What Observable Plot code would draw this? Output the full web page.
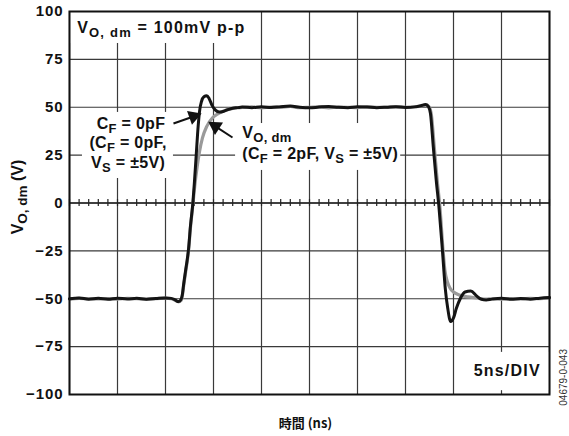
<!DOCTYPE html>
<html><head><meta charset="utf-8">
<script src="https://cdn.jsdelivr.net/npm/d3@7"></script>
<script src="https://cdn.jsdelivr.net/npm/@observablehq/plot@0.6"></script>
<style>
body{margin:0;background:#fff}
g[aria-label="y-axis tick label"] text{letter-spacing:0.9px}
</style>
</head><body><div id="chart"></div>
<script>
// ---- data ----
const yTicks = [-100, -75, -50, -25, 0, 25, 50, 75, 100];
const xGrid = [0, 5, 10, 15, 20, 25, 30, 35, 40, 45, 50];
const minorTicks = [0,1,2,3,4,5,6,7,8,9,10,11,12,13,14,15,16,17,18,19,20,21,22,23,24,25,26,27,28,29,30,31,32,33,34,35,36,37,38,39,40,41,42,43,44,45,46,47,48,49,50];

// black trace: C_F = 0pF  [time ns, V]
const blackTrace = [
  [0,-50.0],[1,-49.6],[2,-50.2],[3,-49.8],[4,-50.3],[5,-49.7],[6,-50.1],[7,-49.8],[8,-50.2],[9,-49.9],
  [10,-49.6],[10.6,-49.8],[11.0,-50.6],[11.35,-51.5],[11.6,-50.5],[11.75,-48],[11.9,-42],[12.1,-35],
  [12.25,-30],[12.4,-24],[12.6,-12],[12.85,0],[13.0,10],[13.2,25],[13.4,40],[13.55,48],[13.75,53],
  [14.0,55.5],[14.3,56],[14.55,54.5],[14.85,51],[15.2,48.5],[15.6,47.5],[16.0,47.8],[16.5,48.8],
  [17.0,49.5],[17.5,49.8],[18,50.1],[19,49.8],[20,50.2],[21,49.9],[22,50.3],[23,50.6],[24,50.0],
  [25,49.7],[26,50.1],[27,50.4],[28,50.0],[29,49.8],[30,50.2],[31,50.1],[32,49.8],[33,50.0],[34,50.3],
  [35,49.9],[36,50.2],[36.6,50.8],[37.1,51.5],[37.4,50.2],[37.6,46.7],[37.9,29],[38.2,12],[38.5,-3],
  [38.85,-25],[39.15,-45],[39.4,-55],[39.7,-61.9],[40.0,-60],[40.3,-55],[40.7,-50],[41.2,-46.5],
  [41.8,-46],[42.4,-48.5],[42.9,-50.3],[43.4,-50.6],[44,-50.2],[45,-49.8],[46,-50.3],[47,-49.9],
  [48,-50.2],[49,-49.7],[50,-49.4]
];
// grey trace: C_F = 2pF
const greyTrace = [
  [0,-50.2],[1,-49.8],[2,-50],[3,-50.1],[4,-49.9],[5,-50.2],[6,-49.8],[7,-50],[8,-50.3],[9,-49.9],
  [10,-49.7],[10.6,-49.9],[11.0,-50.8],[11.35,-51.6],[11.6,-51],[11.75,-48.5],[11.9,-43],[12.1,-36],
  [12.25,-31],[12.4,-25],[12.6,-13],[12.85,-1],[13.05,9],[13.3,19],[13.55,27],[13.85,34],[14.3,40],
  [14.9,44.5],[15.5,46.7],[16.2,48.3],[17,49.4],[18,49.9],[19,50.2],[20,49.7],[21,50.1],[22,50],
  [23,50.4],[24,49.8],[25,50],[26,50.2],[27,49.7],[28,50.1],[29,50],[30,49.8],[31,50.2],[32,50],
  [33,49.9],[34,50.2],[35,50],[36,50.3],[36.6,50.6],[37.15,51.2],[37.45,50.3],[37.7,46],[38.0,29],
  [38.3,12],[38.6,-3],[38.9,-24],[39.1,-35],[39.35,-41],[39.65,-44.5],[40.0,-46.5],[40.6,-48],
  [41.5,-49],[42.5,-49.6],[43.4,-50.2],[44,-50],[45,-50.2],[46,-49.9],[47,-50.1],[48,-49.8],[49,-50],[50,-49.6]
];

// text annotations (time ns, V)
const boxTexts = [
  {t: 0.8, v: 89, text: "V_{O, dm} = 100mV p-p"},
  {t: 42.1, v: -90.1, text: "5ns/DIV"}
];
const leftTexts = [
  {t: 18.0, v: 34.2, text: "V_{O, dm}"},
  {t: 18.0, v: 23.2, text: "(C_{F} = 2pF, V_{S} = ±5V)"}
];
const centerTexts = [
  {t: 6.4, v: 38.9, text: "C_{F} = 0pF"},
  {t: 6.1, v: 28.5, text: "(C_{F} = 0pF,"},
  {t: 6.1, v: 18.5, text: "V_{S} = ±5V)"}
];
// white label backgrounds (time ns, V)
const labelBoxes = [
  {t1: 0, t2: 19, v1: 100, v2: 83.3},
  {t1: 1.35, t2: 10.83, v1: 47.3, v2: 12.8},
  {t1: 17.3, t2: 34.5, v1: 41.5, v2: 17},
  {t1: 40.5, t2: 50, v1: -78, v2: -98}
];
// arrows (time ns, V)
const arrows = [
  {t1: 10.83, v1: 41.5, t2: 12.92, v2: 45.2},
  {t1: 16.98, v1: 34.2, t2: 15.2, v2: 40.0}
];
const yLabel = "V_{O, dm} (V)";
const xLabel = "時間 (ns)";
const figCode = "04679-0-043";

// ---- layout ----
const W = 569, H = 436;
const M = {top: 11, right: 20, bottom: 42, left: 69};
const kx = (W - M.left - M.right) / 50;
const ky = (H - M.top - M.bottom) / 200;
const FONT = "'Liberation Sans', Arial, Helvetica, sans-serif";

function rich(data, opts, subSize = 13, shift = 4, spacing = 0) {
  return Plot.text(data, {
    ...opts,
    render(index, scales, values, dims, ctx, next) {
      const g = next(index, scales, values, dims, ctx);
      for (const t of g.querySelectorAll("text")) {
        const s = t.textContent;
        t.textContent = "";
        if (spacing) t.setAttribute("letter-spacing", spacing);
        const parts = s.split(/_\{([^}]*)\}/);
        let shifted = false;
        parts.forEach((p, i) => {
          if (!p) return;
          const ts = document.createElementNS("http://www.w3.org/2000/svg", "tspan");
          ts.textContent = p;
          if (i % 2 === 1) { ts.setAttribute("font-size", subSize); ts.setAttribute("dy", shift); shifted = true; }
          else if (shifted) { ts.setAttribute("dy", -shift); shifted = false; }
          t.appendChild(ts);
        });
      }
      return g;
    }
  });
}

const fmt = d => d < 0 ? "\u2212" + Math.abs(d) : String(d);

const chart = Plot.plot({
  width: W, height: H,
  marginTop: M.top, marginRight: M.right, marginBottom: M.bottom, marginLeft: M.left,
  x: {domain: [0, 50], axis: null},
  y: {domain: [-100, 100]},
  style: {fontFamily: FONT, fontSize: "16px", fontWeight: "bold", color: "#111", background: "#fff", overflow: "visible"},
  marks: [
    Plot.ruleX(xGrid, {x: d => d, stroke: "#3a3a3a", strokeWidth: 1.2}),
    Plot.ruleY(yTicks, {y: d => d, stroke: "#3a3a3a", strokeWidth: 1.2}),
    Plot.rect(labelBoxes, {x1: "t1", x2: "t2", y1: "v1", y2: "v2", fill: "white"}),
    Plot.ruleY([0], {y: d => d, stroke: "#222", strokeWidth: 1.6}),
    Plot.ruleX(minorTicks, {x: d => d, y1: -1.8, y2: 1.8, stroke: "#222", strokeWidth: 1.2}),
    Plot.line(greyTrace, {x: d => d[0], y: d => d[1], stroke: "#9a9a9a", strokeWidth: 3.2, curve: "monotone-x"}),
    Plot.line(blackTrace, {x: d => d[0], y: d => d[1], stroke: "#141414", strokeWidth: 3, curve: "monotone-x"}),
    Plot.frame({stroke: "#111", strokeWidth: 2}),
    Plot.axisY(yTicks, {tickSize: 0, tickPadding: 6, tickFormat: fmt, label: null, fontSize: 15}),
    Plot.link(arrows, {x1: "t1", y1: "v1", x2: "t2", y2: "v2", stroke: "#111", strokeWidth: 2}),
    Plot.dot(arrows, {x: "t2", y: "v2", symbol: "triangle", r: 5.5, fill: "#111", stroke: "none",
      rotate: d => Math.atan2((d.t2 - d.t1) * kx, (d.v2 - d.v1) * ky) * 180 / Math.PI}),
    rich(boxTexts, {x: "t", y: "v", text: "text", textAnchor: "start", lineAnchor: "bottom", fill: "#111"}, 13, 4, 1.2),
    rich(leftTexts, {x: "t", y: "v", text: "text", textAnchor: "start", lineAnchor: "bottom", fill: "#111"}, 13, 4, 0.3),
    rich(centerTexts, {x: "t", y: "v", text: "text", textAnchor: "middle", lineAnchor: "bottom", fill: "#111"}, 13, 4, 0.3),
    rich([yLabel], {frameAnchor: "left", dx: -52, dy: -6, rotate: -90, textAnchor: "middle", lineAnchor: "middle", fill: "#111"}, 13.5, 4, 0),
    Plot.text([xLabel], {frameAnchor: "bottom", dx: -4, dy: 33, lineAnchor: "bottom", fill: "#111", fontSize: 13,
      fontFamily: "'Noto Sans CJK JP', sans-serif", fontWeight: "bold"}),
    Plot.text([figCode], {frameAnchor: "right", dx: 14, dy: 146, rotate: -90, fontSize: 10, fontWeight: "normal", fill: "#333", lineAnchor: "middle"})
  ]
});
document.getElementById("chart").appendChild(chart);
</script>
</body></html>
